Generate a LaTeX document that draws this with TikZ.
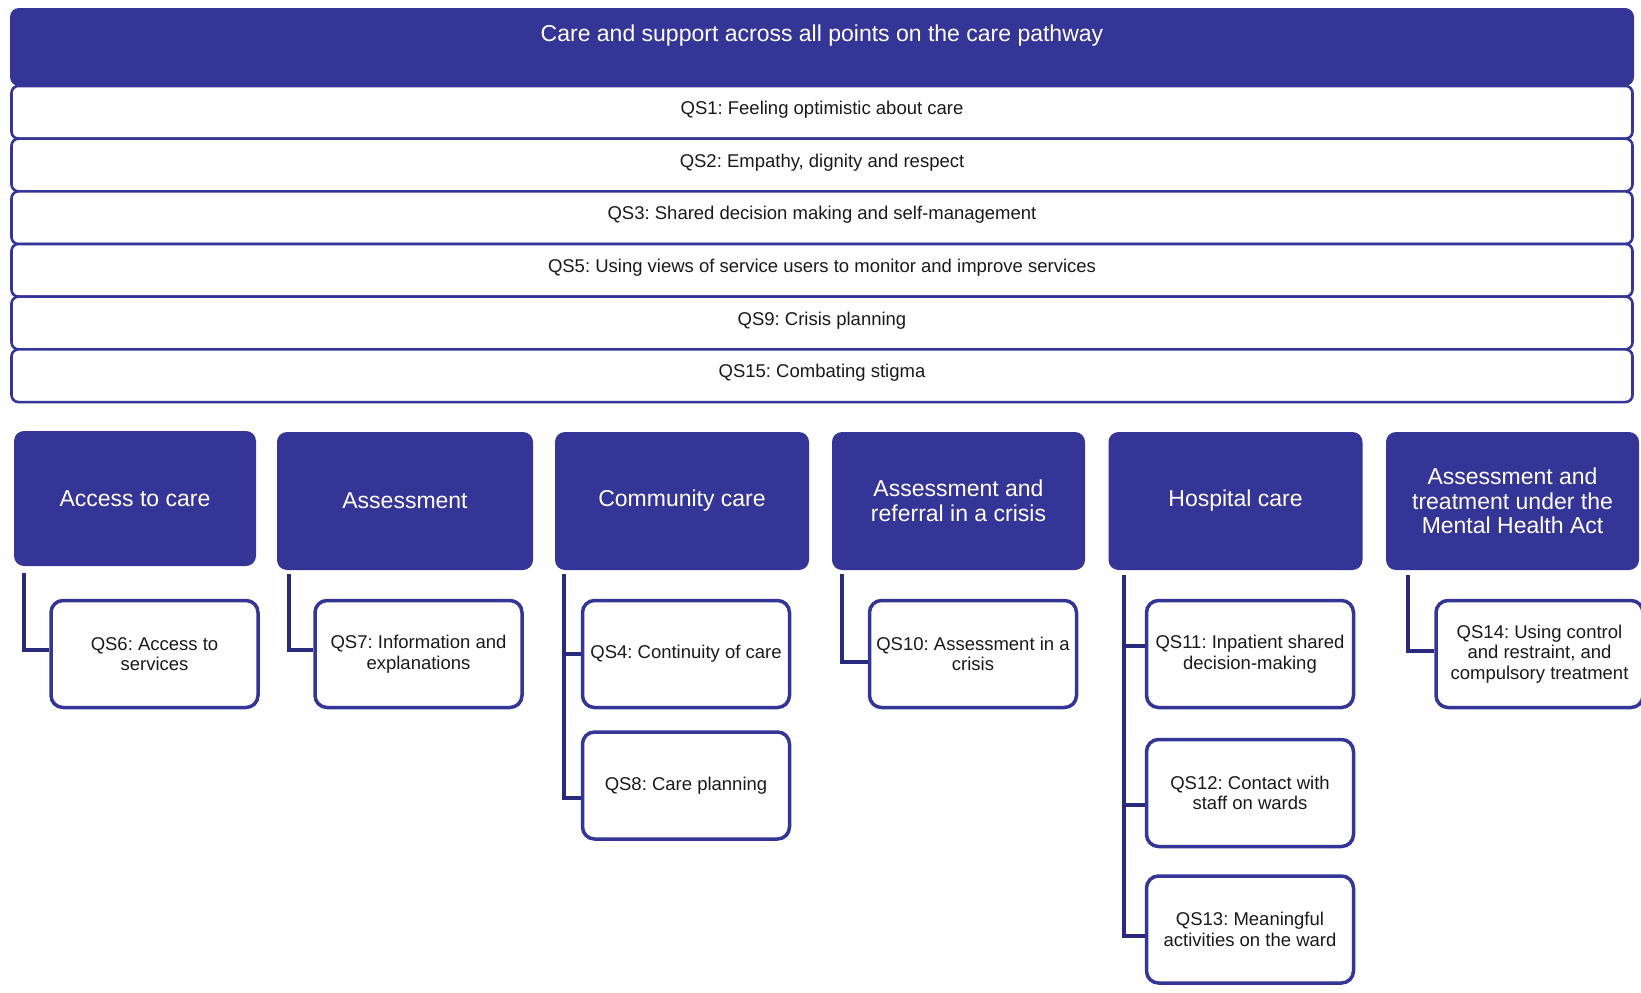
\documentclass[tikz,border=0pt]{standalone}
\usepackage{fontspec}
\setmainfont{Liberation Sans}
\definecolor{navy}{RGB}{53,53,151}
\definecolor{linkblue}{RGB}{42,42,125}
\definecolor{ink}{RGB}{26,26,26}
\frenchspacing
\begin{document}
\begin{tikzpicture}[x=1pt,y=-1pt,
  hdrbox/.style={fill=navy, rounded corners=9pt, minimum width=1624pt, minimum height=78pt, inner sep=0pt},
  hdrtext/.style={text=white, inner sep=0pt, font=\fontsize{23}{25}\selectfont},
  rowbox/.style={draw=navy, line width=2.6pt, fill=white, rounded corners=7pt,
    minimum width=1621pt, minimum height=52.7pt, inner sep=0pt, text=ink,
    font=\fontsize{18.5}{20.5}\selectfont, text height=13.3pt, text depth=9pt},
  catbox/.style={fill=navy, rounded corners=10pt, text=white, align=center, inner sep=0pt,
    font=\fontsize{23}{24.5}\selectfont, minimum height=138pt},
  qsbox/.style={draw=navy, fill=white, line width=3.5pt, rounded corners=12pt, align=center,
    inner sep=0pt, text=ink, font=\fontsize{18.5}{20.5}\selectfont,
    minimum width=207pt, minimum height=107pt},
  link/.style={draw=linkblue, line width=4pt}
]
\useasboundingbox (0,0) rectangle (1641,993);
\clip (0,0) rectangle (1641,993);

% banner covering the whole pathway
\node[hdrbox] (hdr) at (822,47) {};
\node[hdrtext] (hdrtitle) at (822,36) {Care and support across all points on the care pathway};

% statements that apply at every point
\node[rowbox] (r1) at (822,112.3) {QS1: Feeling optimistic about care};
\node[rowbox] (r2) at (822,165.0) {QS2: Empathy, dignity and respect};
\node[rowbox] (r3) at (822,217.7) {QS3: Shared decision making and self-management};
\node[rowbox] (r4) at (822,270.3) {QS5: Using views of service users to monitor and improve services};
\node[rowbox] (r5) at (822,323.0) {QS9: Crisis planning};
\node[rowbox] (r6) at (822,375.7) {QS15: Combating stigma};

% stages of the pathway
\node[catbox, minimum width=242pt, minimum height=135pt] (c1) at (135,498.5) {Access to care};
\node[catbox, minimum width=256pt] (c2) at (405,501) {Assessment};
\node[catbox, minimum width=254pt] (c3) at (682,501) {Community care};
\node[catbox, minimum width=253pt] (c4) at (958.5,501) {Assessment and\\referral in a crisis};
\node[catbox, minimum width=254pt] (c5) at (1235.5,501) {Hospital care};
\node[catbox, minimum width=253pt] (c6) at (1512.5,501) {Assessment and\\treatment under the\\Mental Health Act};

% statements for each stage
\node[qsbox] (q6)  at (154.5,654) {QS6: Access to\\services};
\node[qsbox] (q7)  at (418.5,654) {QS7: Information and\\explanations};
\node[qsbox] (q4)  at (686,654)   {QS4: Continuity of care};
\node[qsbox] (q8)  at (686,785.5) {QS8: Care planning};
\node[qsbox] (q10) at (973,654)   {QS10: Assessment in a\\crisis};
\node[qsbox] (q11) at (1250,654)  {QS11: Inpatient shared\\decision-making};
\node[qsbox] (q12) at (1250,793)  {QS12: Contact with\\staff on wards};
\node[qsbox] (q13) at (1250,929.5){QS13: Meaningful\\activities on the ward};
\node[qsbox] (q14) at (1539.5,654){QS14: Using control\\and restraint, and\\compulsory treatment};

% tops of the connector spines
\coordinate (s1) at ([xshift=10pt,yshift=-7pt]c1.south west);
\coordinate (s2) at ([xshift=12pt,yshift=-4pt]c2.south west);
\coordinate (s3) at ([xshift=9pt,yshift=-4pt]c3.south west);
\coordinate (s4) at ([xshift=10pt,yshift=-4pt]c4.south west);
\coordinate (s5) at ([xshift=15.5pt,yshift=-5pt]c5.south west);
\coordinate (s6) at ([xshift=22pt,yshift=-5pt]c6.south west);

% connectors
\draw[link] (s1) |- ([yshift=4pt]q6.west);
\draw[link] (s2) |- ([yshift=4pt]q7.west);
\draw[link] (s3) |- ([yshift=-12.5pt]q8.west);
\draw[link] (q4.west) -| (s3);
\draw[link] (s4) |- ([yshift=-8pt]q10.west);
\draw[link] (s5) |- ([yshift=-6.5pt]q13.west);
\draw[link] ([yshift=8pt]q11.west) -| (s5);
\draw[link] ([yshift=-12pt]q12.west) -| (s5);
\draw[link] (s6) |- ([yshift=3pt]q14.west);
\end{tikzpicture}
\end{document}
